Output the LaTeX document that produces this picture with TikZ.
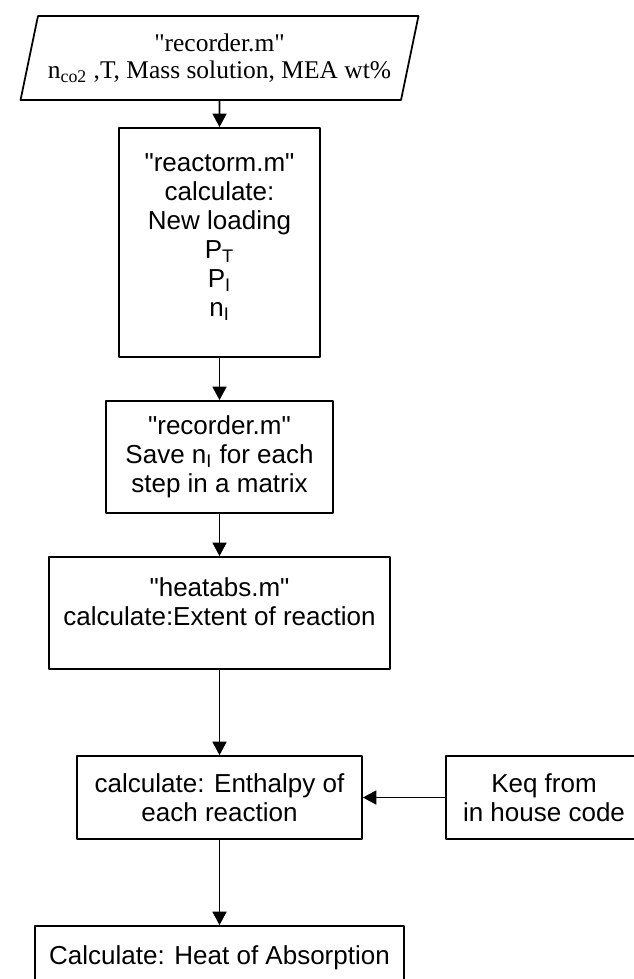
\documentclass[tikz,border=0pt]{standalone}
\usepackage{fontspec}
\setmainfont{Liberation Serif}[Ligatures=TeXOff]
\setsansfont{Liberation Sans}[Ligatures=TeXOff]
\usetikzlibrary{arrows.meta, shapes.geometric, positioning}

\begin{document}
\begin{tikzpicture}[x=0.02cm, y=-0.02cm, line cap=round, line join=round, >={Triangle[length=0.27cm,width=0.28cm]},
	box/.style={draw, line width=1pt, align=center, inner sep=0pt, font=\sffamily\fontsize{14.8}{16.5}\selectfont},
	flow/.style={->, line width=0.9pt}]

		% page frame
		\useasboundingbox (0,0) rectangle (634,979);

		% input data
		\node[draw, line width=1pt, trapezium, trapezium left angle=70.3, trapezium right angle=109.7,
			trapezium stretches body=true, minimum width=7.96cm, minimum height=1.68cm, align=center, inner sep=0pt,
			font=\fontsize{14.5}{15.4}\selectfont] (rec) at (219.5,58) {"recorder.m"\\ n\textsubscript{co2} ,T, Mass solution, MEA wt\%};

		% steps
		\node[box, minimum width=4.02cm, minimum height=4.58cm, text depth=0.3cm] (react) at (219.5,242.5)
			{"reactorm.m"\\ calculate:\\ New loading\\ P\textsubscript{T}\\ P\textsubscript{I}\\ n\textsubscript{I}};
		\node[box, minimum width=4.54cm, minimum height=2.24cm] (save) at (219.5,457)
			{"recorder.m"\\ Save n\textsubscript{I} for each\\ step in a matrix};
		\node[box, minimum width=6.82cm, minimum height=2.24cm, text depth=0.45cm] (heatabs) at (219.5,613)
			{"heatabs.m"\\ calculate:Extent of reaction};
		\node[box, minimum width=5.70cm, minimum height=1.66cm] (enth) at (219.5,797.5)
			{calculate: Enthalpy of\\ each reaction};
		\node[box, minimum width=3.92cm, minimum height=1.66cm] (keq) at (544,797.5)
			{Keq from\\ in house code};
		\node[box, minimum width=7.38cm, minimum height=1.28cm] (heat) at (219.5,958)
			{Calculate: Heat of Absorption};

		% connectors
		\draw[flow] (rec) -- (react);
		\draw[flow] (react) -- (save);
		\draw[flow] (save) -- (heatabs);
		\draw[flow] (heatabs) -- (enth);
		\draw[flow] (keq) -- (enth);
		\draw[flow] (enth) -- (heat);
\end{tikzpicture}
\end{document}
